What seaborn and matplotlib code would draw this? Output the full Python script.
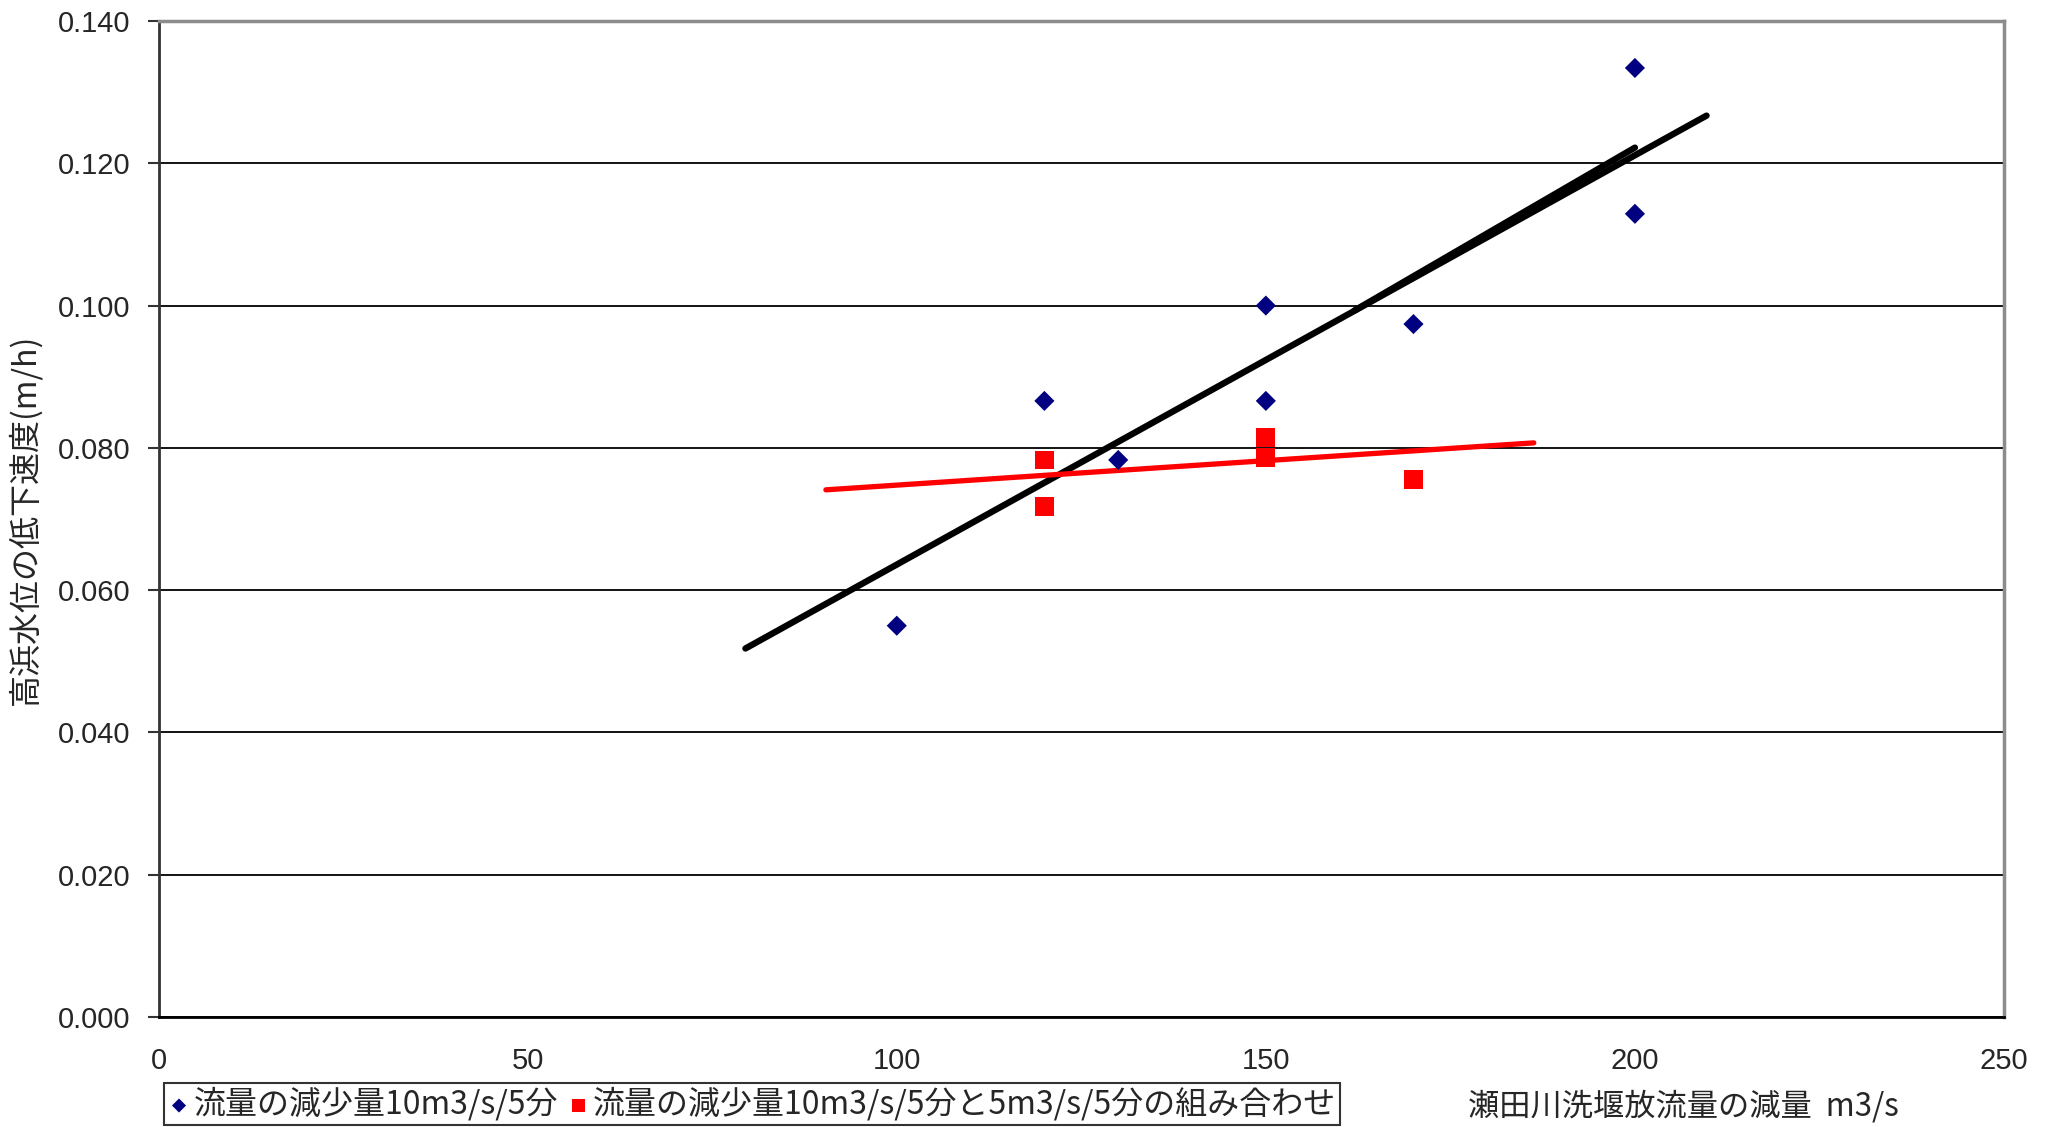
import numpy as np
import pandas as pd
import matplotlib
matplotlib.use("Agg")
import matplotlib.pyplot as plt
from matplotlib.ticker import FormatStrFormatter
import seaborn as sns

# data
blue_x = [100, 120, 130, 150, 150, 170, 200, 200]
blue_y = [0.055, 0.0866, 0.0783, 0.100, 0.0866, 0.0974, 0.1334, 0.1129]
red_x = [120, 120, 150, 150, 170]
red_y = [0.0783, 0.0717, 0.0814, 0.0787, 0.0755]

# trend lines (endpoints as drawn)
black_x = [79.5, 209.7]
black_y = [0.0518, 0.1267]
black2_x = [162, 200]
black2_y = [0.0993, 0.1222]
red_line_x = [90.4, 186.3]
red_line_y = [0.0741, 0.0807]

LABEL_BLUE = "流量の減少量10m3/s/5分"
LABEL_RED = "流量の減少量10m3/s/5分と5m3/s/5分の組み合わせ"
XLABEL = "瀬田川洗堰放流量の減量  m3/s"
YLABEL = "高浜水位の低下速度(m/h)"

sns.set_style("white")
plt.rcParams["font.family"] = ["Noto Sans CJK JP", "DejaVu Sans"]

fig = plt.figure(figsize=(20.55, 11.27), dpi=100)
ax = fig.add_axes([158.6 / 2055, 1 - 1017 / 1127, (2004 - 158.6) / 2055, (1017 - 21) / 1127])

df_b = pd.DataFrame({"x": blue_x, "y": blue_y})
df_r = pd.DataFrame({"x": red_x, "y": red_y})

sns.lineplot(x=black_x, y=black_y, color="black", linewidth=4.6, ax=ax, zorder=3)
sns.lineplot(x=black2_x, y=black2_y, color="black", linewidth=4.6, ax=ax, zorder=3)
sns.lineplot(x=red_line_x, y=red_line_y, color="#ff0000", linewidth=3.8, ax=ax, zorder=3)
sns.scatterplot(data=df_b, x="x", y="y", marker="D", color="#000080", s=105,
                edgecolor="none", ax=ax, zorder=4, label=LABEL_BLUE)
sns.scatterplot(data=df_r, x="x", y="y", marker="s", color="#ff0000", s=185,
                edgecolor="none", ax=ax, zorder=4, label=LABEL_RED)

ax.set_xlim(0, 250)
ax.set_ylim(0, 0.14)
ax.set_xticks(np.arange(0, 251, 50))
ax.set_yticks(np.arange(0, 0.141, 0.02))
ax.yaxis.set_major_formatter(FormatStrFormatter("%.3f"))
ax.grid(axis="y", color="black", linewidth=1.3)
ax.grid(axis="x", visible=False)
ax.set_axisbelow(True)

ax.tick_params(axis="y", which="major", left=True, length=8, width=1.5, color="#333333",
               labelsize=21, pad=12)
ax.tick_params(axis="x", which="major", bottom=False, labelsize=21, pad=18)
for lab in ax.get_xticklabels() + ax.get_yticklabels():
    lab.set_family(["Liberation Sans", "DejaVu Sans"])

for side in ["top", "right"]:
    ax.spines[side].set_color("#8c8c8c")
    ax.spines[side].set_linewidth(2.5)
ax.spines["left"].set_color("#333333")
ax.spines["left"].set_linewidth(2)
ax.spines["bottom"].set_color("black")
ax.spines["bottom"].set_linewidth(2)

ax.set_xlabel("")
ax.set_ylabel(YLABEL, fontsize=23, labelpad=12)
fig.text(1468 / 2055, 1 - 1106 / 1127, XLABEL, fontsize=22.5, va="center", ha="left")

handles, labels = ax.get_legend_handles_labels()
ax.legend_.remove()
leg = fig.legend(handles, labels, loc="lower left", bbox_to_anchor=(164 / 2055, 0.002),
                 borderaxespad=0, ncol=2, fontsize=23, frameon=True, fancybox=False,
                 edgecolor="black", handletextpad=0.1, columnspacing=0.3, borderpad=0.12,
                 handlelength=0.7, markerscale=0.7)
leg.get_frame().set_linewidth(1.5)

fig.savefig("out.png", dpi=100, facecolor="white")
plt.close(fig)
